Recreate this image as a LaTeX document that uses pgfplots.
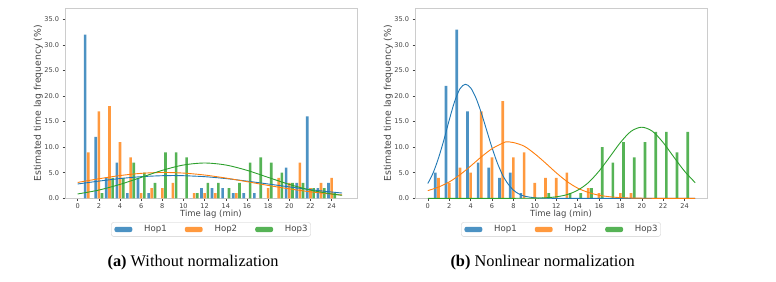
\documentclass[border=0pt]{standalone}
\usepackage{fontspec}
\setmainfont{DejaVu Sans}
\newfontfamily\capfont{Liberation Serif}
\usepackage{pgfplots}
\usepackage{pgfplotstable}
\pgfplotsset{compat=1.18}
\definecolor{c1}{HTML}{1F77B4}
\definecolor{c2}{HTML}{FF7F0E}
\definecolor{c3}{HTML}{2CA02C}
\definecolor{b1}{HTML}{4C92C3}
\definecolor{b2}{HTML}{FF993E}
\definecolor{b3}{HTML}{56B356}
\definecolor{framegray}{HTML}{CCCCCC}
\definecolor{tickgray}{HTML}{444444}

\pgfplotstableread{
x h1 h2 h3
1 32 9 0
2 12 17 1
3 4 18 4
4 7 11 4
5 1 8 7
6 4 1 5
7 1 2 3
8 0 2 9
9 0 3 9
10 0 0 8
11 0 1 1
12 2 1 3
13 2 1 3
14 2 0 2
15 1 1 3
16 1 0 7
17 1 0 8
18 0 2 7
19 0 4 5
20 6 3 3
21 3 7 3
22 16 2 2
23 2 3 2
24 3 4 1
}\barsA

\pgfplotstableread{
x h1 h2 h3
1 5 4 0
2 22 3 0
3 33 6 0
4 17 5 0
5 7 17 0
6 6 8 0
7 4 19 0
8 5 8 0
9 1 9 0
10 0 3 0
11 0 4 1
12 0 4 0
13 0 5 1
14 0 0 1
15 0 2 2
16 0 1 10
17 0 0 7
18 0 1 11
19 0 1 8
20 0 0 11
21 0 0 13
22 0 0 13
23 0 0 9
24 0 0 13
}\barsB

\pgfplotsset{
  panel/.style={
    scale only axis, width=292bp, height=190bp,
    ymin=0, ymax=37.15,
    xtick={0,2,...,24}, ytick={0,5,...,35},
    yticklabel style={/pgf/number format/.cd, fixed, fixed zerofill, precision=1},
    /pgf/number format/assume math mode=true,
    tick label style={font=\fontsize{6.6}{7.9}\selectfont, text=tickgray},
    xticklabel style={yshift=1bp},
    axis line style={draw=framegray, line width=0.8bp},
    major tick length=2.5bp, tick align=outside, tick pos=left,
    tick style={draw=tickgray, line width=0.5bp},
    xlabel={Time lag (min)},
    ylabel={Estimated time lag frequency (\%)},
    xlabel style={at={(axis description cs:0.5,0)}, anchor=north, yshift=-12bp, inner sep=0pt, font=\fontsize{8.5}{10}\selectfont, text=tickgray},
    ylabel style={at={(axis description cs:0,0.5)}, anchor=south, yshift=22bp, inner sep=0pt, font=\fontsize{9.3}{11}\selectfont, text=tickgray},
    legend columns=3,
    legend style={at={(axis description cs:0.5,0)}, anchor=north, yshift=-24bp,
      draw=framegray, rounded corners=2bp, font=\fontsize{8.6}{10}\selectfont, text=tickgray,
      inner xsep=3bp, inner ysep=3bp, nodes={inner sep=0pt},
      /tikz/every odd column/.append style={column sep=11.9bp},
      /tikz/every even column/.append style={column sep=18.1bp}},
    legend image code/.code={\fill[#1] (0bp,-2.65bp) rectangle (17.8bp,2.65bp);},
  },
  barA/.style={ybar, bar width=0.25, bar shift=0pt, draw=none},
  curve/.style={line width=0.9bp, smooth, forget plot},
}

\begin{document}
\begin{tikzpicture}
\useasboundingbox (0bp,0bp) rectangle (776bp,-282bp);

\begin{axis}[panel, at={(65bp,-198.3bp)}, anchor=south west, xmin=-1.2, xmax=26.4]
\addplot[barA, fill=b1] table[x expr=\thisrow{x}-0.3, y=h1] {\barsA};
\addlegendentry{Hop1}
\addplot[barA, fill=b2] table[x=x, y=h2] {\barsA};
\addlegendentry{Hop2}
\addplot[barA, fill=b3] table[x expr=\thisrow{x}+0.3, y=h3] {\barsA};
\addlegendentry{Hop3}
\addplot[curve, c1] coordinates {(0,2.8) (2,3.36) (4,3.86) (6,4.23) (8,4.42) (9,4.45) (10,4.42) (12,4.23) (14,3.86) (16,3.36) (18,2.8) (20,2.23) (22,1.69) (24,1.23) (25,1.03)};
\addplot[curve, c2] coordinates {(0,3.1) (2,3.82) (4,4.45) (6,4.88) (8,5.05) (10,4.93) (12,4.55) (14,3.96) (16,3.25) (18,2.52) (20,1.84) (22,1.27) (24,0.82) (25,0.65)};
\addplot[curve, c3] coordinates {(0,0.85) (2,1.61) (4,2.72) (6,4.09) (8,5.47) (10,6.51) (12,6.9) (14,6.51) (16,5.47) (18,4.09) (20,2.72) (22,1.61) (24,0.85) (25,0.59)};
\end{axis}

\begin{axis}[panel, at={(415bp,-198.3bp)}, anchor=south west, xmin=-1.2, xmax=26.1]
\addplot[barA, fill=b1] table[x expr=\thisrow{x}-0.3, y=h1] {\barsB};
\addlegendentry{Hop1}
\addplot[barA, fill=b2] table[x=x, y=h2] {\barsB};
\addlegendentry{Hop2}
\addplot[barA, fill=b3] table[x expr=\thisrow{x}+0.3, y=h3] {\barsB};
\addlegendentry{Hop3}
\addplot[curve, c1] coordinates {(0,2.9) (0.5,5.0) (1,7.9) (1.5,11.4) (2,15.3) (2.5,18.9) (3,21.4) (3.5,22.3) (4,21.6) (4.5,19.6) (5,16.7) (5.5,13.3) (6,9.9) (6.5,6.9) (7,4.5) (7.5,2.8) (8,1.6) (8.5,0.87) (9,0.44) (10,0.09) (11,0.01) (12,0) (14,0) (18,0) (22,0) (25,0)};
\addplot[curve, c2] coordinates {(0,1.5) (1,2.2) (2,3.2) (3,4.6) (4,6.3) (5,8.1) (6,9.7) (7,10.8) (7.3,11.05) (8,10.9) (9,10.2) (10,8.7) (11,6.9) (12,5.0) (13,3.3) (14,2.0) (15,1.15) (16,0.6) (17,0.3) (18,0.13) (19,0.05) (20,0.02) (21,0) (23,0) (25,0)};
\addplot[curve, c3] coordinates {(0,0) (4,0) (8,0) (9,0.01) (10,0.03) (11,0.1) (12,0.29) (13,0.71) (14,1.57) (15,3.05) (16,5.3) (17,8.06) (18,10.9) (19,13.1) (20,13.9) (21,13.1) (22,10.9) (23,8.06) (24,5.3) (25,3.05)};
\end{axis}

\node[font=\capfont\fontsize{16.4}{19}\selectfont, anchor=base] at (193bp,-266bp) {\textbf{(a)} Without normalization};
\node[font=\capfont\fontsize{16.4}{19}\selectfont, anchor=base] at (542.6bp,-266bp) {\textbf{(b)} Nonlinear normalization};
\end{tikzpicture}
\end{document}
